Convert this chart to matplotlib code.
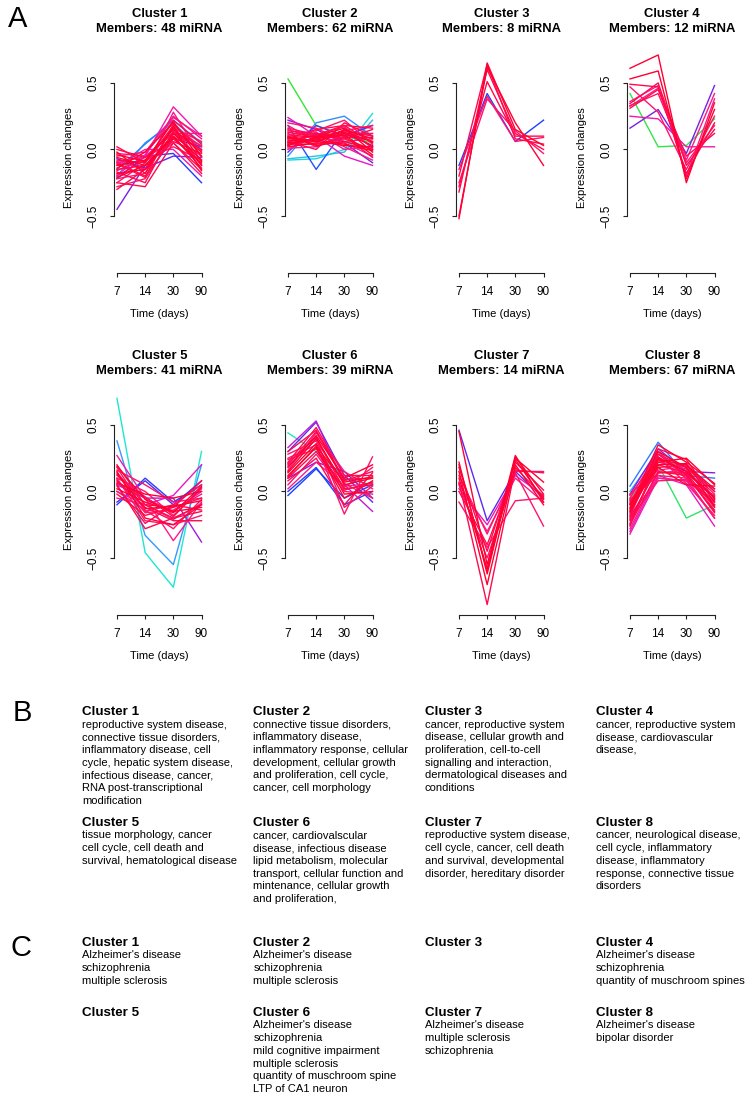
import matplotlib
matplotlib.use('Agg')
import matplotlib.pyplot as plt
from matplotlib.colors import LinearSegmentedColormap

plt.rcParams['font.family'] = ['Liberation Sans', 'DejaVu Sans']

W, H = 752, 1102
DPI = 100

time_labels = ['7', '14', '30', '90']
member_counts = [48, 62, 8, 12, 41, 39, 14, 67]

# expression profiles (day 7, 14, 30, 90) and fuzzy membership per miRNA
c1_profiles = [
    [-0.45, -0.12, 0.08, 0.02], [-0.22, -0.05, -0.03, -0.25], [-0.20, 0.05, 0.20, 0.00],
    [-0.15, 0.04, 0.22, 0.05], [-0.10, -0.05, 0.32, 0.10], [0.02, -0.10, 0.18, -0.12],
    [-0.28, -0.22, 0.10, -0.05], [-0.25, -0.28, 0.05, -0.15], [-0.18, -0.15, 0.12, -0.08],
    [-0.12, -0.08, 0.15, -0.02], [-0.08, -0.10, 0.22, 0.04], [-0.05, -0.02, 0.25, 0.08],
    [-0.15, -0.12, 0.05, -0.18], [-0.22, -0.18, 0.18, 0.02], [-0.10, -0.20, 0.08, -0.10],
    [-0.03, -0.05, 0.12, 0.12], [-0.20, -0.08, 0.02, -0.08], [-0.14, -0.02, 0.20, -0.05],
    [-0.06, -0.12, 0.10, -0.14], [-0.25, -0.10, 0.16, 0.06], [-0.17, -0.25, 0.14, -0.12],
    [-0.09, -0.15, 0.28, -0.06], [0.00, -0.06, 0.06, -0.03], [-0.12, 0.00, 0.00, -0.20],
    [-0.30, -0.15, 0.12, 0.00], [-0.02, -0.18, 0.17, -0.16], [-0.19, -0.04, 0.24, 0.10],
    [-0.07, -0.14, -0.05, -0.06], [-0.21, -0.12, 0.09, -0.11], [-0.11, -0.21, 0.19, -0.01],
    [-0.16, -0.06, 0.13, 0.03], [-0.04, -0.09, 0.21, -0.09],
]
c1_membership = [0.6, 0.45, 0.3, 0.35, 0.8, 0.95, 0.9, 0.95, 1.0, 1.0, 0.95, 0.9,
                 0.95, 0.9, 0.95, 0.85, 0.9, 1.0, 1.0, 0.9, 0.95, 0.85, 0.95, 0.8,
                 0.95, 1.0, 0.75, 0.55, 1.0, 0.95, 0.9, 1.0]

c2_profiles = [
    [0.53, 0.18, 0.10, 0.05], [-0.08, -0.07, 0.00, 0.27], [-0.07, -0.05, -0.02, 0.22],
    [0.18, -0.15, 0.15, 0.02], [-0.05, 0.20, 0.25, 0.10], [0.22, 0.15, 0.05, -0.10],
    [0.24, 0.10, -0.05, -0.12], [0.05, 0.08, 0.12, 0.03], [0.10, 0.12, 0.08, 0.00],
    [0.02, 0.05, 0.15, 0.08], [0.12, 0.02, 0.10, 0.12], [0.08, 0.15, 0.18, 0.05],
    [0.00, 0.10, 0.05, -0.05], [0.15, 0.08, 0.14, 0.18], [0.06, 0.00, 0.20, 0.10],
    [0.03, 0.12, 0.02, -0.08], [0.18, 0.06, 0.12, 0.06], [0.09, 0.10, 0.16, -0.02],
    [0.04, 0.04, 0.08, 0.15], [0.11, 0.14, 0.22, 0.04], [0.07, 0.06, 0.03, 0.02],
    [0.14, 0.12, 0.10, -0.06], [0.01, 0.02, 0.12, 0.12], [0.20, 0.16, 0.06, 0.08],
    [0.06, 0.11, 0.18, 0.16], [0.10, 0.03, 0.06, 0.00], [0.13, 0.09, 0.14, 0.10],
    [0.05, 0.13, 0.00, 0.02], [0.08, 0.07, 0.11, -0.04], [-0.02, 0.18, 0.10, 0.18],
    [0.03, 0.09, 0.13, 0.06], [0.09, 0.04, 0.09, 0.09], [0.16, 0.11, 0.17, 0.01],
    [0.04, 0.07, 0.04, -0.01],
]
c2_membership = [0.0, 0.18, 0.22, 0.42, 0.32, 0.6, 0.75, 1.0, 0.95, 1.0, 0.9, 0.95,
                 0.85, 0.9, 0.95, 0.85, 0.9, 1.0, 0.95, 0.9, 1.0, 0.95, 0.85, 0.9,
                 0.95, 1.0, 0.95, 0.85, 1.0, 0.55, 1.0, 0.95, 0.9, 1.0]

c3_profiles = [
    [-0.12, 0.42, 0.06, 0.22], [-0.52, 0.65, 0.15, 0.03], [-0.50, 0.62, 0.20, -0.12],
    [-0.32, 0.60, 0.12, 0.00], [-0.28, 0.51, 0.10, 0.10], [-0.20, 0.64, 0.08, 0.04],
    [-0.15, 0.40, 0.06, 0.09], [-0.25, 0.38, 0.14, -0.03],
]
c3_membership = [0.45, 1.0, 1.0, 0.95, 0.95, 0.95, 0.9, 0.9]

c4_profiles = [
    [0.42, 0.02, 0.03, 0.23], [0.16, 0.30, -0.03, 0.48], [0.25, 0.23, 0.02, 0.02],
    [0.61, 0.71, -0.25, 0.35], [0.53, 0.59, -0.22, 0.30], [0.49, 0.47, -0.18, 0.20],
    [0.345, 0.50, -0.12, 0.15], [0.325, 0.46, -0.08, 0.42], [0.31, 0.45, -0.05, 0.12],
    [0.47, 0.28, -0.15, 0.25], [0.36, 0.48, -0.20, 0.38], [0.33, 0.42, -0.10, 0.18],
]
c4_membership = [0.02, 0.6, 0.8, 1.0, 1.0, 0.95, 0.95, 0.85, 0.95, 0.9, 0.85, 0.9]

c5_profiles = [
    [0.70, -0.46, -0.72, 0.30], [0.38, -0.33, -0.55, 0.20], [-0.10, 0.10, -0.08, 0.05],
    [-0.08, 0.08, -0.10, 0.08], [0.05, -0.05, -0.05, -0.38], [0.00, -0.10, -0.03, 0.20],
    [0.27, -0.05, -0.15, 0.00], [0.20, -0.10, -0.12, -0.05], [0.15, -0.20, -0.25, -0.10],
    [0.10, 0.00, -0.18, 0.02], [0.05, -0.28, -0.20, -0.15], [0.18, -0.15, -0.10, 0.05],
    [0.12, -0.05, -0.37, -0.08], [0.08, -0.12, -0.22, -0.22], [0.02, -0.08, -0.15, -0.12],
    [0.16, 0.05, -0.08, -0.05], [-0.02, -0.18, -0.12, 0.08], [0.10, -0.22, -0.25, -0.18],
    [0.06, -0.02, -0.05, 0.00], [0.14, -0.10, -0.20, -0.10], [0.00, -0.14, -0.28, -0.06],
    [0.19, -0.06, -0.16, 0.04], [0.04, -0.24, -0.10, -0.14], [0.09, -0.16, -0.14, -0.02],
    [-0.05, -0.10, -0.21, -0.09], [0.13, -0.13, -0.11, -0.07], [0.07, -0.04, -0.19, 0.03],
]
c5_membership = [0.15, 0.3, 0.48, 0.5, 0.65, 0.75, 0.8, 0.95, 1.0, 0.9, 0.95, 0.9,
                 0.85, 0.95, 1.0, 0.9, 0.95, 0.9, 1.0, 0.95, 0.9, 1.0, 0.95, 0.9, 0.85,
                 1.0, 0.95]

c6_profiles = [
    [0.44, 0.30, 0.10, 0.05], [-0.03, 0.17, -0.05, 0.05], [0.00, 0.18, -0.10, 0.00],
    [0.30, 0.52, 0.12, -0.08], [0.33, 0.53, 0.05, -0.15], [0.10, 0.22, 0.15, -0.05],
    [0.15, 0.40, 0.05, 0.10], [0.20, 0.45, 0.08, 0.15], [0.25, 0.35, -0.17, 0.26],
    [0.10, 0.30, 0.02, 0.05], [0.18, 0.42, 0.10, 0.20], [0.05, 0.28, 0.00, -0.02],
    [0.22, 0.48, 0.12, 0.12], [0.12, 0.33, -0.05, 0.08], [0.28, 0.38, 0.06, -0.05],
    [0.08, 0.25, -0.10, 0.14], [0.16, 0.44, 0.15, 0.02], [0.24, 0.32, 0.03, 0.18],
    [0.14, 0.36, -0.02, 0.00], [0.30, 0.46, 0.09, 0.10], [0.02, 0.22, 0.04, 0.06],
    [0.19, 0.39, -0.12, 0.04], [0.11, 0.34, 0.07, 0.11], [0.21, 0.41, 0.01, 0.07],
]
c6_membership = [0.12, 0.45, 0.45, 0.55, 0.7, 0.6, 1.0, 0.95, 0.9, 0.95, 1.0, 0.9,
                 0.95, 1.0, 0.9, 0.95, 0.85, 0.9, 1.0, 0.95, 0.85, 0.9, 1.0, 0.95]

c7_profiles = [
    [0.46, -0.22, 0.15, -0.05], [0.45, -0.55, 0.27, -0.08], [0.22, -0.62, 0.25, 0.07],
    [0.18, -0.45, 0.22, 0.01], [0.15, -0.70, 0.20, -0.10], [0.07, -0.85, 0.18, -0.04],
    [0.05, -0.50, 0.14, -0.26], [0.02, -0.25, 0.12, -0.03], [-0.08, -0.42, -0.07, -0.05],
    [0.12, -0.32, 0.15, 0.15], [0.20, -0.60, 0.24, -0.06], [0.00, -0.40, 0.16, 0.14],
    [0.10, -0.58, 0.26, -0.02], [0.06, -0.30, 0.10, -0.08],
]
c7_membership = [0.55, 1.0, 1.0, 0.95, 1.0, 0.95, 0.9, 0.8, 0.9, 0.9, 1.0, 0.95, 1.0, 0.85]

c8_profiles = [
    [-0.05, 0.20, -0.20, -0.10], [0.04, 0.37, 0.12, 0.10], [0.00, 0.30, 0.12, 0.02],
    [-0.02, 0.32, 0.15, 0.14], [-0.30, 0.12, 0.05, -0.26], [-0.32, 0.10, 0.08, -0.20],
    [-0.10, 0.25, 0.15, -0.05], [-0.20, 0.18, 0.20, 0.00], [-0.05, 0.30, 0.10, -0.10],
    [-0.15, 0.22, 0.25, 0.05], [-0.25, 0.15, 0.12, -0.15], [-0.08, 0.28, 0.18, -0.02],
    [-0.18, 0.10, 0.08, -0.08], [-0.12, 0.35, 0.22, 0.06], [-0.22, 0.20, 0.14, -0.12],
    [-0.03, 0.26, 0.06, -0.18], [-0.28, 0.14, 0.16, -0.05], [-0.14, 0.24, 0.20, 0.02],
    [-0.06, 0.12, 0.10, -0.20], [-0.19, 0.32, 0.24, -0.06], [-0.10, 0.18, 0.05, 0.04],
    [-0.24, 0.22, 0.17, -0.10], [-0.16, 0.28, 0.12, -0.14], [-0.02, 0.16, 0.19, 0.00],
    [-0.21, 0.08, 0.09, -0.03], [-0.09, 0.20, 0.21, -0.08], [-0.26, 0.26, 0.13, -0.16],
    [-0.13, 0.30, 0.18, -0.11], [-0.07, 0.14, 0.14, -0.04], [-0.17, 0.24, 0.10, -0.07],
]
c8_membership = [0.05, 0.35, 0.25, 0.62, 0.75, 0.8, 1.0, 0.95, 0.9, 1.0, 0.95, 0.9,
                 0.85, 1.0, 0.95, 0.9, 0.85, 1.0, 0.9, 0.95, 1.0, 0.9, 0.95, 0.85,
                 0.9, 1.0, 0.95, 1.0, 0.95, 0.9]

profiles = [c1_profiles, c2_profiles, c3_profiles, c4_profiles,
            c5_profiles, c6_profiles, c7_profiles, c8_profiles]
memberships = [c1_membership, c2_membership, c3_membership, c4_membership,
               c5_membership, c6_membership, c7_membership, c8_membership]

# panel B: enriched functions
b_terms = [
    ["reproductive system disease,", "connective tissue disorders,", "inflammatory disease, cell",
     "cycle, hepatic system disease,", "infectious disease, cancer,", "RNA post-transcriptional",
     "modification"],
    ["connective tissue disorders,", "inflammatory disease,", "inflammatory response, cellular",
     "development, cellular growth", "and proliferation, cell cycle,", "cancer, cell morphology"],
    ["cancer, reproductive system", "disease, cellular growth and", "proliferation, cell-to-cell",
     "signalling and interaction,", "dermatological diseases and", "conditions"],
    ["cancer, reproductive system", "disease, cardiovascular", "disease,"],
    ["tissue morphology, cancer", "cell cycle, cell death and", "survival, hematological disease"],
    ["cancer, cardiovalscular", "disease, infectious disease", "lipid metabolism, molecular",
     "transport, cellular function and", "mintenance, cellular growth", "and proliferation,"],
    ["reproductive system disease,", "cell cycle, cancer, cell death", "and survival, developmental",
     "disorder, hereditary disorder"],
    ["cancer, neurological disease,", "cell cycle, inflammatory", "disease, inflammatory",
     "response, connective tissue", "disorders"],
]

# panel C: neurological terms
c_terms = [
    ["Alzheimer's disease", "schizophrenia", "multiple sclerosis"],
    ["Alzheimer's disease", "schizophrenia", "multiple sclerosis"],
    [],
    ["Alzheimer's disease", "schizophrenia", "quantity of muschroom spines"],
    [],
    ["Alzheimer's disease", "schizophrenia", "mild cognitive impairment", "multiple sclerosis",
     "quantity of muschroom spine", "LTP of CA1 neuron"],
    ["Alzheimer's disease", "multiple sclerosis", "schizophrenia"],
    ["Alzheimer's disease", "bipolar disorder"],
]

membership_cmap = LinearSegmentedColormap.from_list('membership', [
    (0.0, '#33e633'), (0.15, '#1ee6d2'), (0.3, '#3399ff'), (0.45, '#1f3fff'),
    (0.6, '#7a1fe6'), (0.75, '#e619c8'), (0.87, '#ff1a80'), (1.0, '#ff0033')])


def px_axes(fig, left, top, width, height):
    return fig.add_axes([left / W, 1 - (top + height) / H, width / W, height / H])


def px_text(fig, x, y, s, **kw):
    fig.text(x / W, 1 - y / H, s, **kw)


fig = plt.figure(figsize=(W / DPI, H / DPI), dpi=DPI)

AX_W, AX_H = 91.3, 230.2
x_idx = [1, 2, 3, 4]
for k in range(8):
    row, col = divmod(k, 4)
    x7 = 117 + 171 * col
    top = 43 + 342 * row
    ax = px_axes(fig, x7 - 3.4, top, AX_W, AX_H)
    ax.set_xlim(0.88, 4.12)
    ax.set_ylim(-0.93, 0.80)

    # low-membership lines first so the red ones sit on top
    order = sorted(range(len(memberships[k])), key=lambda i: memberships[k][i])
    for i in order:
        ax.plot(x_idx, profiles[k][i], color=membership_cmap(memberships[k][i]), lw=1.0)

    for side in ['top', 'right']:
        ax.spines[side].set_visible(False)
    ax.spines['left'].set_bounds(-0.5, 0.5)
    ax.spines['bottom'].set_bounds(1, 4)
    for side in ['left', 'bottom']:
        ax.spines[side].set_linewidth(0.8)
        ax.spines[side].set_color('#222222')

    ax.set_yticks([-0.5, 0.0, 0.5])
    ax.set_yticklabels(['\u22120.5', '0.0', '0.5'])
    ax.set_xticks(x_idx)
    ax.set_xticklabels(time_labels)
    ax.tick_params(axis='y', labelrotation=90, length=3.2, width=0.8, pad=7,
                   labelsize=8.5, color='#222222')
    ax.tick_params(axis='x', length=3.2, width=0.8, pad=6, labelsize=8.5, color='#222222')
    for lab in ax.get_yticklabels():
        lab.set_va('center')

    ax.set_ylabel('Expression changes', fontsize=8)
    ax.yaxis.set_label_coords(-39.6 / AX_W, 0.5)
    ax.set_xlabel('Time (days)', fontsize=8)
    ax.xaxis.set_label_coords(0.5, -36 / AX_H)

    ax.text(0.5, 1 + 21.5 / AX_H, f'Cluster {k + 1}\nMembers: {member_counts[k]} miRNA',
            transform=ax.transAxes, ha='center', va='center', fontsize=9.4,
            fontweight='bold', linespacing=1.38)

# panel letters
px_text(fig, 18, 19, 'A', fontsize=21, ha='center', va='center')
px_text(fig, 22, 713, 'B', fontsize=21, ha='center', va='center')
px_text(fig, 21, 948, 'C', fontsize=21, ha='center', va='center')


def text_block(terms, row_y):
    for k in range(8):
        row, col = divmod(k, 4)
        x = 82 + 171.3 * col
        y = row_y[row]
        px_text(fig, x, y, f'Cluster {k + 1}', fontsize=9.6, fontweight='bold',
                ha='left', va='center')
        for i, line in enumerate(terms[k]):
            px_text(fig, x, y + 12.5 + 12.7 * i, line, fontsize=8, ha='left', va='center')


text_block(b_terms, [712, 823])
text_block(c_terms, [943, 1013])

fig.savefig('out.png', dpi=DPI)
